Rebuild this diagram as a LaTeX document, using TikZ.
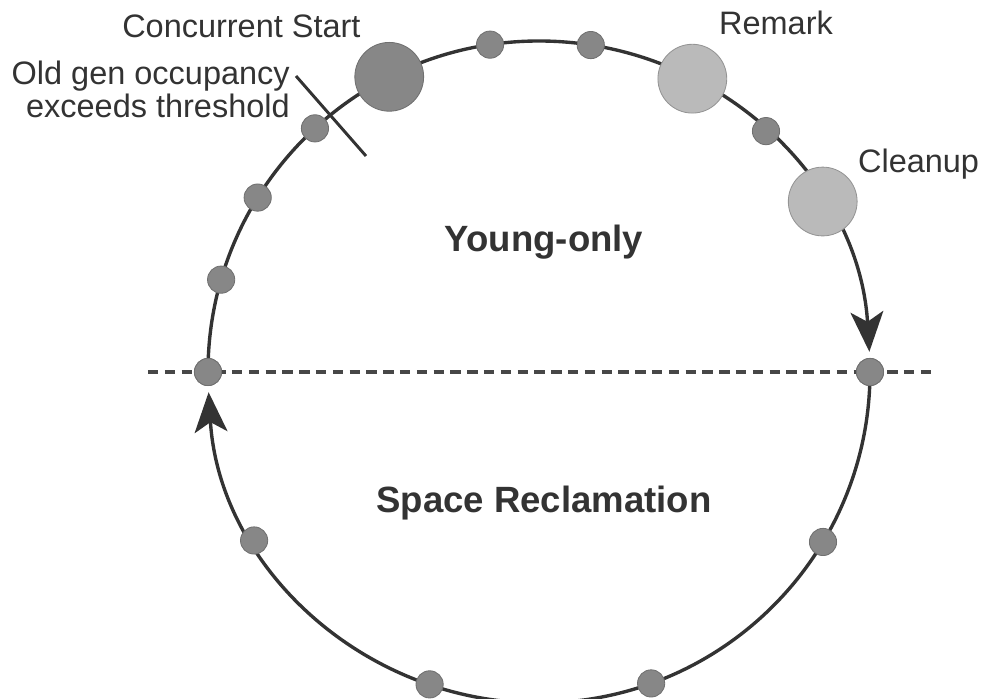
\documentclass[tikz,border=0pt]{standalone}
\usepackage{fontspec}
\setmainfont{Liberation Sans}
\usetikzlibrary{arrows.meta}

\begin{document}
\begin{tikzpicture}[
  cyc/.style={draw=black!80, line width=2.4pt},
  flow/.style={cyc, -{Stealth[length=1cm, width=0.82cm, inset=0.25cm]}},
  gc/.style={circle, fill=black!47, draw=black!56, line width=0.6pt, minimum size=0.68cm, inner sep=0pt},
  bigstop/.style={gc, minimum size=1.72cm},
  litestop/.style={bigstop, fill=black!27, draw=black!42},
  split/.style={draw=black!72, line width=2.6pt, dash pattern=on 0.26cm off 0.16cm},
  threshline/.style={draw=black!80, line width=2.1pt},
  lbl/.style={text=black!80, inner sep=0pt, font=\fontsize{23.1}{23.7}\selectfont},
  phase/.style={text=black!80, inner sep=0pt, font=\bfseries\fontsize{26}{30}\selectfont}
]
\useasboundingbox (-13.475,-8.175) rectangle (11.05,9.3);
\clip (-13.475,-8.175) rectangle (11.05,9.3);

% phase boundary
\coordinate (splitL) at (-9.775,0);
\coordinate (splitR) at (9.825,0);
\draw[split] (splitL) -- (splitR);

% young-only and mixed collections
\node[gc] (swL) at (180:8.275) {};
\node[gc] (swR) at (0:8.275) {};
\draw[flow] (swL.center) arc[start angle=180, end angle=3.5, radius=8.275cm];
\draw[flow] (swR.center) arc[start angle=0, end angle=-176.5, radius=8.275cm];

% initiating threshold
\coordinate (thrA) at (-6.075,7.4);
\coordinate (thrB) at (-4.325,5.4);
\draw[threshline] (thrA) -- (thrB);

\node[gc] at (180:8.275) {};
\node[gc] (ya) at (163.8:8.275) {};
\node[gc] (yb) at (148.2:8.275) {};
\node[gc] (yc) at (132.6:8.275) {};
\node[bigstop] (cstart) at (116.9:8.275) {};
\node[gc] (yd) at (98.5:8.275) {};
\node[gc] (ye) at (81:8.275) {};
\node[litestop] (remark) at (62.4:8.275) {};
\node[gc] (yf) at (46.7:8.275) {};
\node[litestop] (cleanup) at (31:8.275) {};
\node[gc] at (0:8.275) {};
\node[gc] (ma) at (-30.9:8.275) {};
\node[gc] (mb) at (-70.2:8.275) {};
\node[gc] (mc) at (-109.3:8.275) {};
\node[gc] (md) at (-149.4:8.275) {};

% labels
\node[lbl, anchor=base] (cstartlbl) at (-7.44,8.35) {Concurrent Start};
\node[lbl, align=right, anchor=east] (thrlbl) at (-6.225,7.07) {Old gen occupancy\\exceeds threshold};
\node[lbl, anchor=base] (remarklbl) at (5.925,8.425) {Remark};
\node[lbl, anchor=base] (cleanuplbl) at (9.49,4.975) {Cleanup};
\node[phase, anchor=base] (younglbl) at (0.125,3.0) {Young-only};
\node[phase, anchor=base] (reclaimlbl) at (0.125,-3.525) {Space Reclamation};
\end{tikzpicture}
\end{document}
